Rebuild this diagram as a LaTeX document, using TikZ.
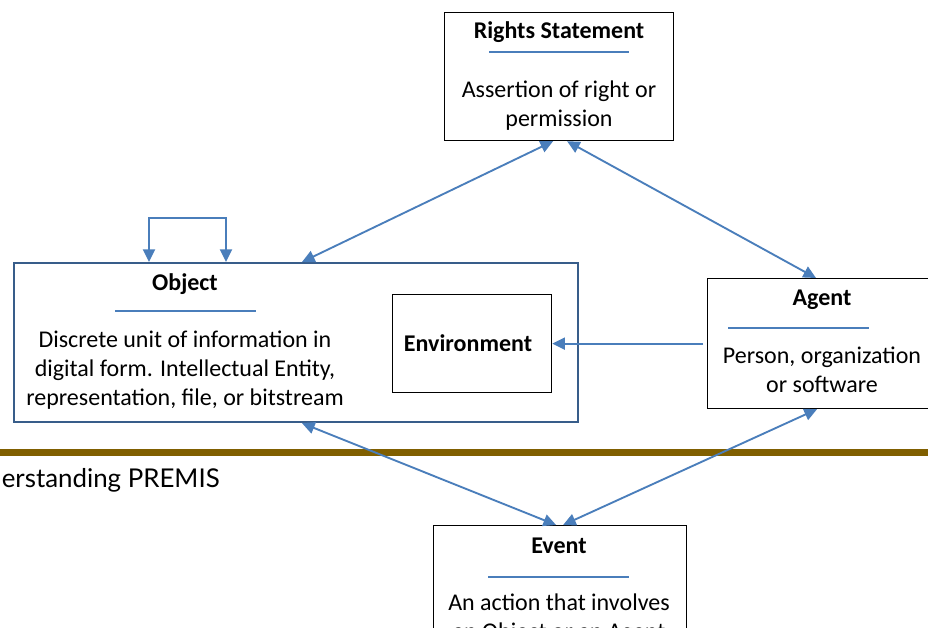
\documentclass[tikz,border=0pt]{standalone}
\usepackage{fontspec}
\setmainfont{Carlito}
\newfontfamily\slidefont{Lato}
\usetikzlibrary{arrows.meta,calc}
\definecolor{linkblue}{HTML}{4A7EBB}
\definecolor{objblue}{HTML}{385D8A}
\definecolor{barbrown}{HTML}{805F00}

\begin{document}
\begin{tikzpicture}[x=0.75pt,y=-0.75pt,
  box/.style={draw=black,line width=0.9pt,fill=white,inner sep=0pt,anchor=north west},
  titletext/.style={font=\fontsize{18}{21.75}\selectfont\bfseries,anchor=base,inner sep=0pt},
  bodytext/.style={font=\fontsize{18}{21.75}\selectfont,anchor=base,align=center,inner sep=0pt},
  rulel/.style={draw=linkblue,line width=0.9pt},
  tip/.tip={Triangle[length=9.5pt,width=9pt]},
  link/.style={draw=linkblue,line width=1.4pt,tip-tip},
  towards/.style={draw=linkblue,line width=1.4pt,-tip}]

% page area
\clip (0,0) rectangle (928,628);
\fill[white] (0,0) rectangle (928,628);

% slide footer band and title fragment
\draw[barbrown,line width=5.25pt] (0,452.5) -- (928,452.5);
\node[font=\slidefont\fontsize{19.4}{23}\selectfont,anchor=base east,inner sep=0pt] (slidetitle) at (220,487) {erstanding PREMIS};

% Rights Statement
\node[box,minimum width=229*0.75pt,minimum height=128*0.75pt] (rights) at (444,12) {};
\node[titletext] (rightsT) at (559,38) {Rights Statement};
\draw[rulel] (489,52) -- (629,52);
\node[bodytext] (rightsB) at (559,126) {Assertion of right or\\permission};

% Object with its Environment
\node[box,draw=objblue,line width=1.6pt,minimum width=564*0.75pt,minimum height=159*0.75pt] (object) at (13,262) {};
\node[titletext] (objectT) at (185,290) {Object};
\draw[rulel] (115,311) -- (256,311);
\node[bodytext] (objectB) at (185,405) {Discrete unit of information in\\digital form. Intellectual Entity,\\representation, file, or bitstream};
\node[box,minimum width=159*0.75pt,minimum height=98*0.75pt] (environment) at (392,294) {};
\node[titletext] (environmentT) at (468,351) {Environment};

% Agent
\node[box,minimum width=233*0.75pt,minimum height=130*0.75pt] (agent) at (707,278) {};
\node[titletext] (agentT) at (822,305) {Agent};
\draw[rulel] (728,328) -- (869,328);
\node[bodytext] (agentB) at (822,392) {Person, organization\\or software};

% Event
\node[box,minimum width=253*0.75pt,minimum height=140*0.75pt] (event) at (433,525) {};
\node[titletext] (eventT) at (559,553) {Event};
\draw[rulel] (488,577) -- (629,577);
\node[bodytext] (eventB) at (559,639) {An action that involves\\an Object or an Agent};

% relationships
\coordinate (loopL) at ($(object.north west)+(136,0)$);
\coordinate (loopR) at ($(object.north west)+(213,0)$);
\draw[link] (loopL) -- ++(0,-44) -| (loopR);

\draw[link] ($(rights.south)+(-6,0)$) -- ($(object.north west)+(289,0)$);
\draw[link] ($(rights.south)+(8,0)$) -- ($(agent.north west)+(109,0)$);
\draw[towards] ($(agent.west)+(-4,0)$) -- (environment.east);
\draw[link] ($(object.south west)+(289,0)$) -- ($(event.north)+(-4,0)$);
\draw[link] ($(agent.south west)+(110,0)$) -- ($(event.north)+(3,0)$);
\end{tikzpicture}
\end{document}
